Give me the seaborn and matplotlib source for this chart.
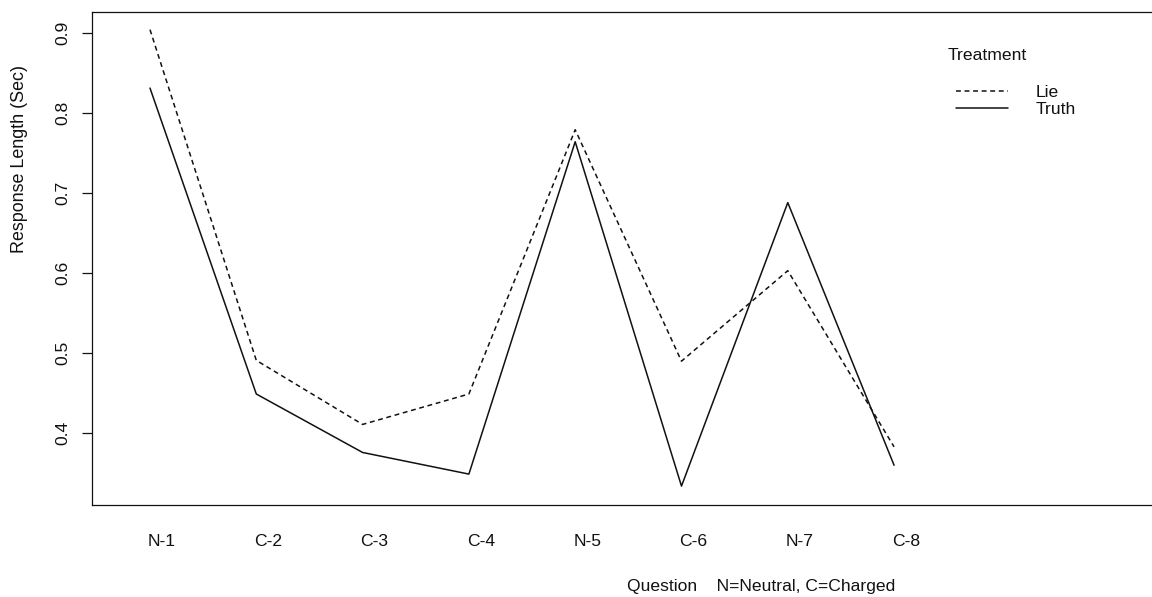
import matplotlib
matplotlib.use("Agg")
import matplotlib.pyplot as plt
import matplotlib.transforms as mtransforms
import numpy as np
import pandas as pd
import seaborn as sns

# Mean response length per question and treatment
questions = ["N-1", "C-2", "C-3", "C-4", "N-5", "C-6", "N-7", "C-8"]
lie = [0.904, 0.491, 0.411, 0.449, 0.779, 0.490, 0.603, 0.383]
truth = [0.831, 0.449, 0.376, 0.349, 0.764, 0.334, 0.688, 0.360]
treatments = ["Lie", "Truth"]
y_ticks = [0.4, 0.5, 0.6, 0.7, 0.8, 0.9]

df = pd.DataFrame({
    "Question": questions * 2,
    "Response": lie + truth,
    "Treatment": [treatments[0]] * len(questions) + [treatments[1]] * len(questions),
})

sns.set_style("ticks")
plt.rcParams["font.family"] = ["Liberation Sans", "DejaVu Sans"]
plt.rcParams["axes.linewidth"] = 0.9

FS = 12.6
ink = "#111111"

fig = plt.figure(figsize=(11.52, 5.97), dpi=100)
# axes box: left edge at 92 px, top at 12 px, bottom at 505 px; right side runs off the canvas
ax = fig.add_axes([92 / 1152, 92 / 597, 1064 / 1152, 493 / 597])

sns.lineplot(
    data=df, x="Question", y="Response",
    hue="Treatment", style="Treatment", hue_order=treatments, style_order=treatments,
    palette={"Lie": ink, "Truth": ink},
    dashes={"Lie": (3.2, 2.4), "Truth": ""},
    linewidth=1.1, sort=False, ax=ax,
)

ax.set_xlim(-0.5456, 9.464)
ax.set_ylim(0.3104, 0.926)
ax.set_yticks(y_ticks)
ax.set_yticklabels([f"{v:.1f}" for v in y_ticks], rotation=90, va="center", fontsize=FS)
ax.tick_params(axis="y", direction="out", length=7.2, width=0.9, pad=8.6, colors=ink)
ax.tick_params(axis="x", length=0, pad=21, labelsize=FS, colors=ink)

# nudge the question labels a little to the right
shift = mtransforms.ScaledTranslation(12 / 100, 0, fig.dpi_scale_trans)
for lab in ax.get_xticklabels():
    lab.set_transform(lab.get_transform() + shift)

for s in ax.spines.values():
    s.set_color(ink)
    s.set_linewidth(0.9)

ax.set_ylabel("Response Length (Sec)", fontsize=FS + 0.3, color=ink)
ax.yaxis.set_label_coords((20 - 92) / 1064, (505 - 159) / 493)
ax.yaxis.label.set_va("center")

ax.set_xlabel("Question    N=Neutral, C=Charged", fontsize=FS, color=ink)
ax.xaxis.set_label_coords((761.5 - 92) / 1064, (505 - 586) / 493)
ax.xaxis.label.set_va("center")

# legend: title drawn separately, entries stacked tightly below it
handles, labels = ax.get_legend_handles_labels()
ax.get_legend().remove()
ax.text((948 - 92) / 1064, (505 - 55) / 493, "Treatment", transform=ax.transAxes,
        ha="left", va="center", fontsize=FS, color=ink)
ax.legend(handles, labels, loc="upper left",
          bbox_to_anchor=((956 - 92) / 1064, (505 - 85) / 493),
          frameon=False, fontsize=FS, handlelength=2.95, handletextpad=1.6,
          labelspacing=0.08, borderpad=0, borderaxespad=0, labelcolor=ink)

fig.savefig("out.png", dpi=100)
